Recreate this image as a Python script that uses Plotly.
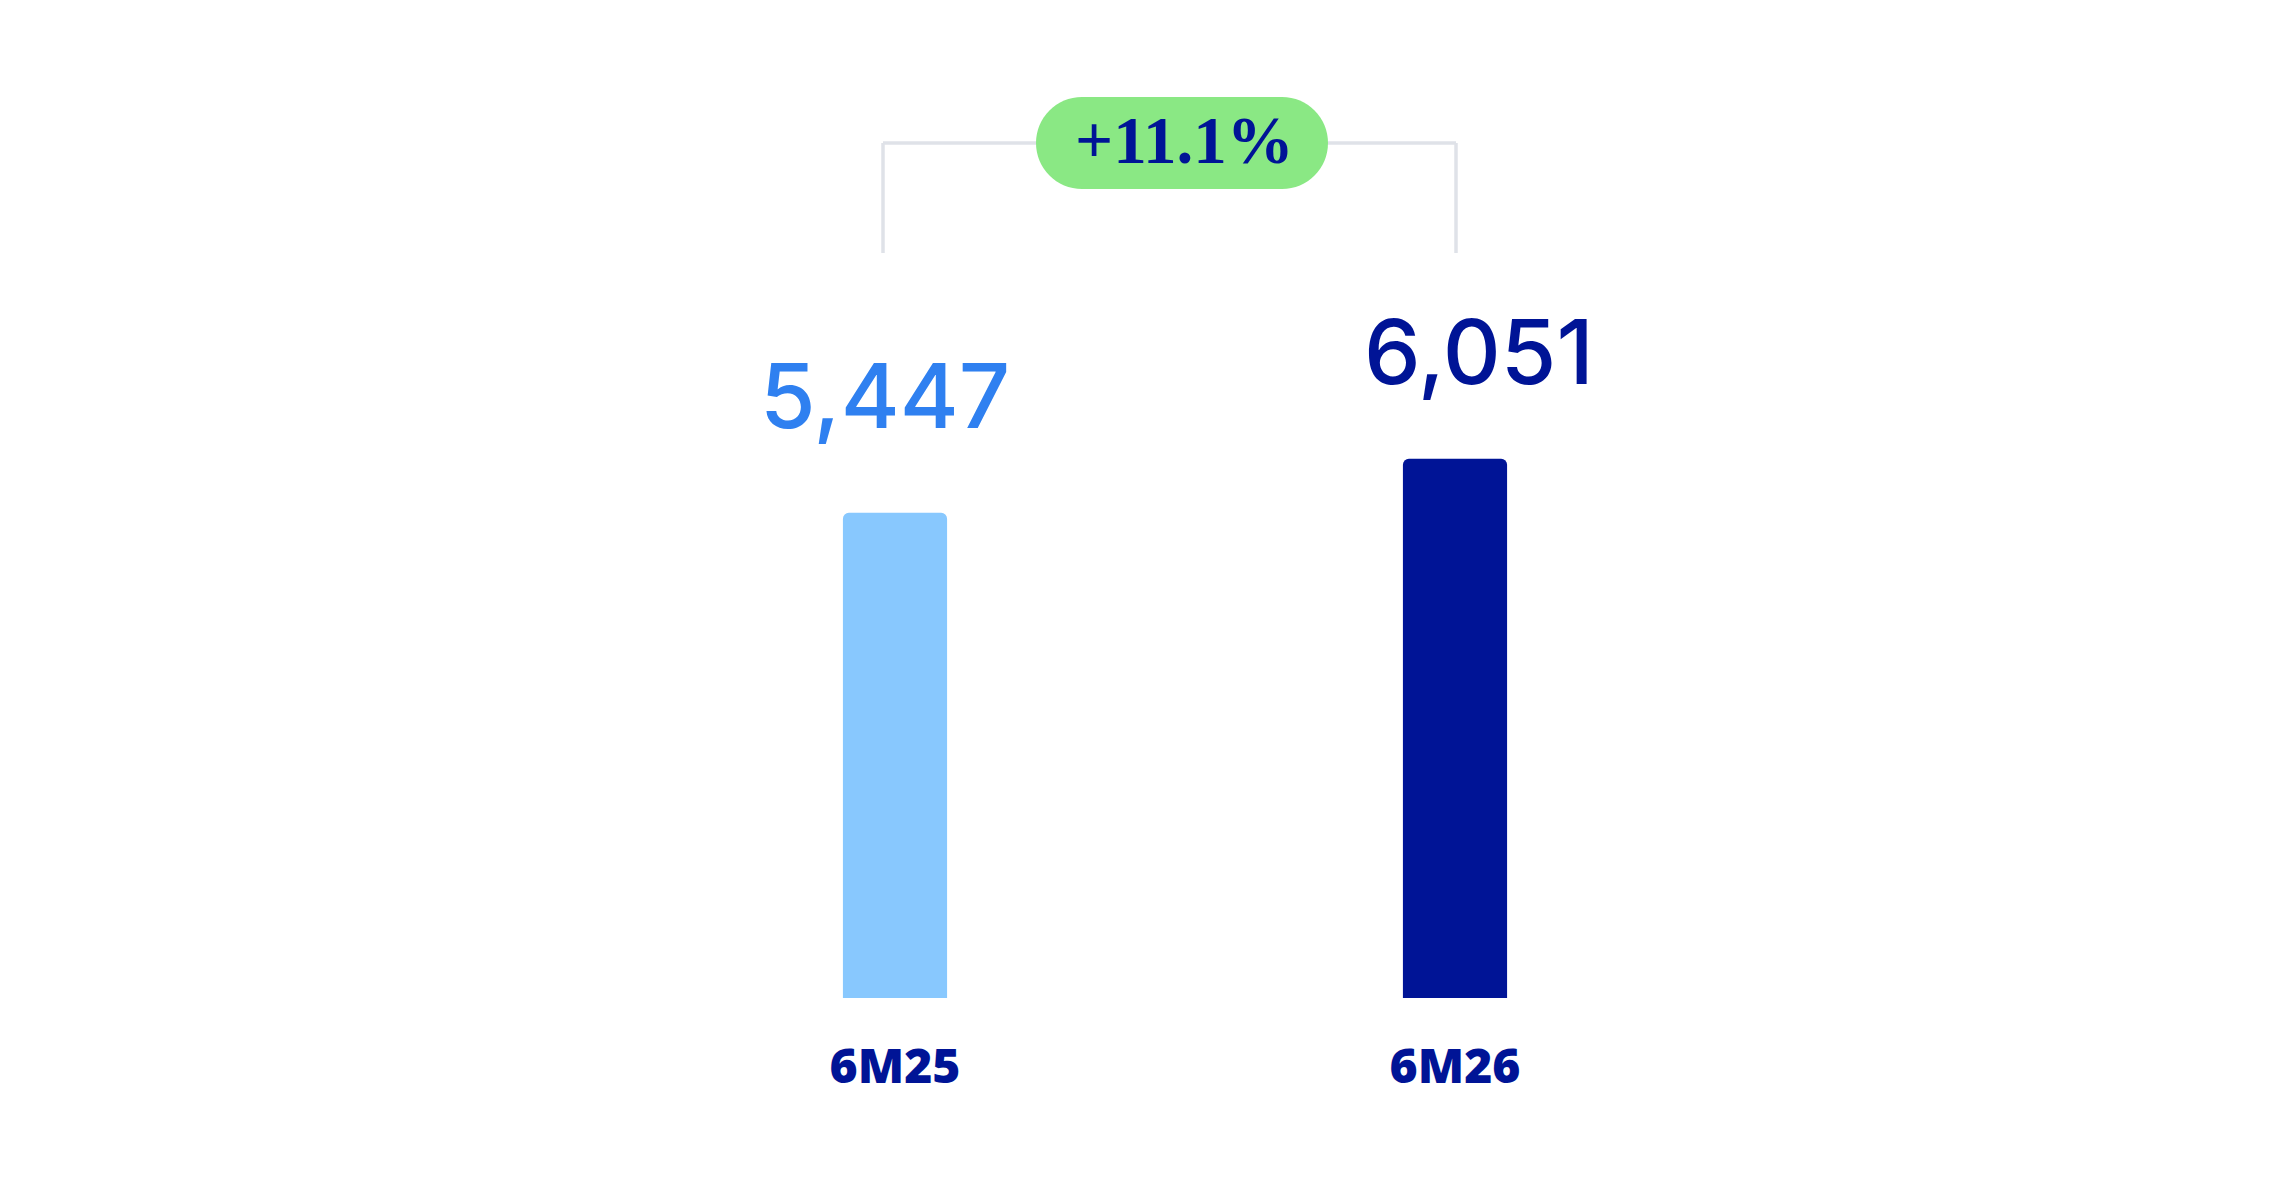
import plotly.graph_objects as go

categories = ["6M25", "6M26"]
values = [5447, 6051]
value_labels = ["5,447", "6,051"]
change_label = "+11.1%"

bar_colors = ["#88c8fe", "#001496"]
label_colors = ["#2f80f0", "#001496"]
NAVY = "#001496"

W, H = 2292, 1188
fig = go.Figure()
fig.add_trace(go.Bar(
    x=[0, 1], y=values, width=0.186,
    marker=dict(color=bar_colors, line=dict(width=0)),
    hoverinfo="skip", showlegend=False,
))

# value labels
offsets = [(-10, 117), (24, 107)]
for i, (v, t) in enumerate(zip(values, value_labels)):
    fig.add_annotation(x=i, y=v, text=t, showarrow=False,
                       xanchor="center", yanchor="middle",
                       xshift=offsets[i][0], yshift=offsets[i][1],
                       font=dict(family="Inter", size=90, weight=500, color=label_colors[i]))

plot_h = H - 190
def py(p):  # pixel y -> paper
    return (plot_h - p) / plot_h
def px(p):  # pixel x -> data x
    return (p - 895) / 560

line = dict(color="#dfe2e8", width=3.5)
xl, xr = px(883), px(1456)
ytop, ybot = py(143), py(253)
fig.add_shape(type="line", xref="x", yref="paper", x0=xl, x1=xr, y0=ytop, y1=ytop, line=line, layer="above")
fig.add_shape(type="line", xref="x", yref="paper", x0=xl, x1=xl, y0=ytop, y1=ybot, line=line, layer="above")
fig.add_shape(type="line", xref="x", yref="paper", x0=xr, x1=xr, y0=ytop, y1=ybot, line=line, layer="above")

# pill badge
hw, hh = 146, 46
k = 0.5523 * hh
s = hw - hh
path = (f"M {-s},{-hh} L {s},{-hh} C {s+k},{-hh} {hw},{-k} {hw},0 "
        f"C {hw},{k} {s+k},{hh} {s},{hh} L {-s},{hh} "
        f"C {-s-k},{hh} {-hw},{k} {-hw},0 C {-hw},{-k} {-s-k},{-hh} {-s},{-hh} Z")
fig.add_shape(type="path", path=path, xref="x", yref="paper",
              xsizemode="pixel", ysizemode="pixel",
              xanchor=px(1182), yanchor=py(143),
              fillcolor="#8ae884", line=dict(width=0), layer="above")
fig.add_annotation(x=px(1184), y=py(140), xref="x", yref="paper",
                   text=change_label, showarrow=False,
                   xanchor="center", yanchor="middle",
                   font=dict(family="Liberation Serif", size=67, weight=900, color=NAVY))

fig.update_layout(
    width=W, height=H,
    margin=dict(l=0, r=0, t=0, b=190),
    paper_bgcolor="white", plot_bgcolor="white",
    barcornerradius=6,
    xaxis=dict(range=[-895/560, (W-895)/560], tickmode="array", tickvals=[0, 1],
               ticktext=categories,
               tickfont=dict(family="Open Sans", size=48, weight=800, color=NAVY),
               showgrid=False, zeroline=False, showline=False, ticks="",
               ticklabelstandoff=36),
    yaxis=dict(range=[0, 11200], visible=False, showgrid=False, zeroline=False),
)
fig.write_html("out.html")
